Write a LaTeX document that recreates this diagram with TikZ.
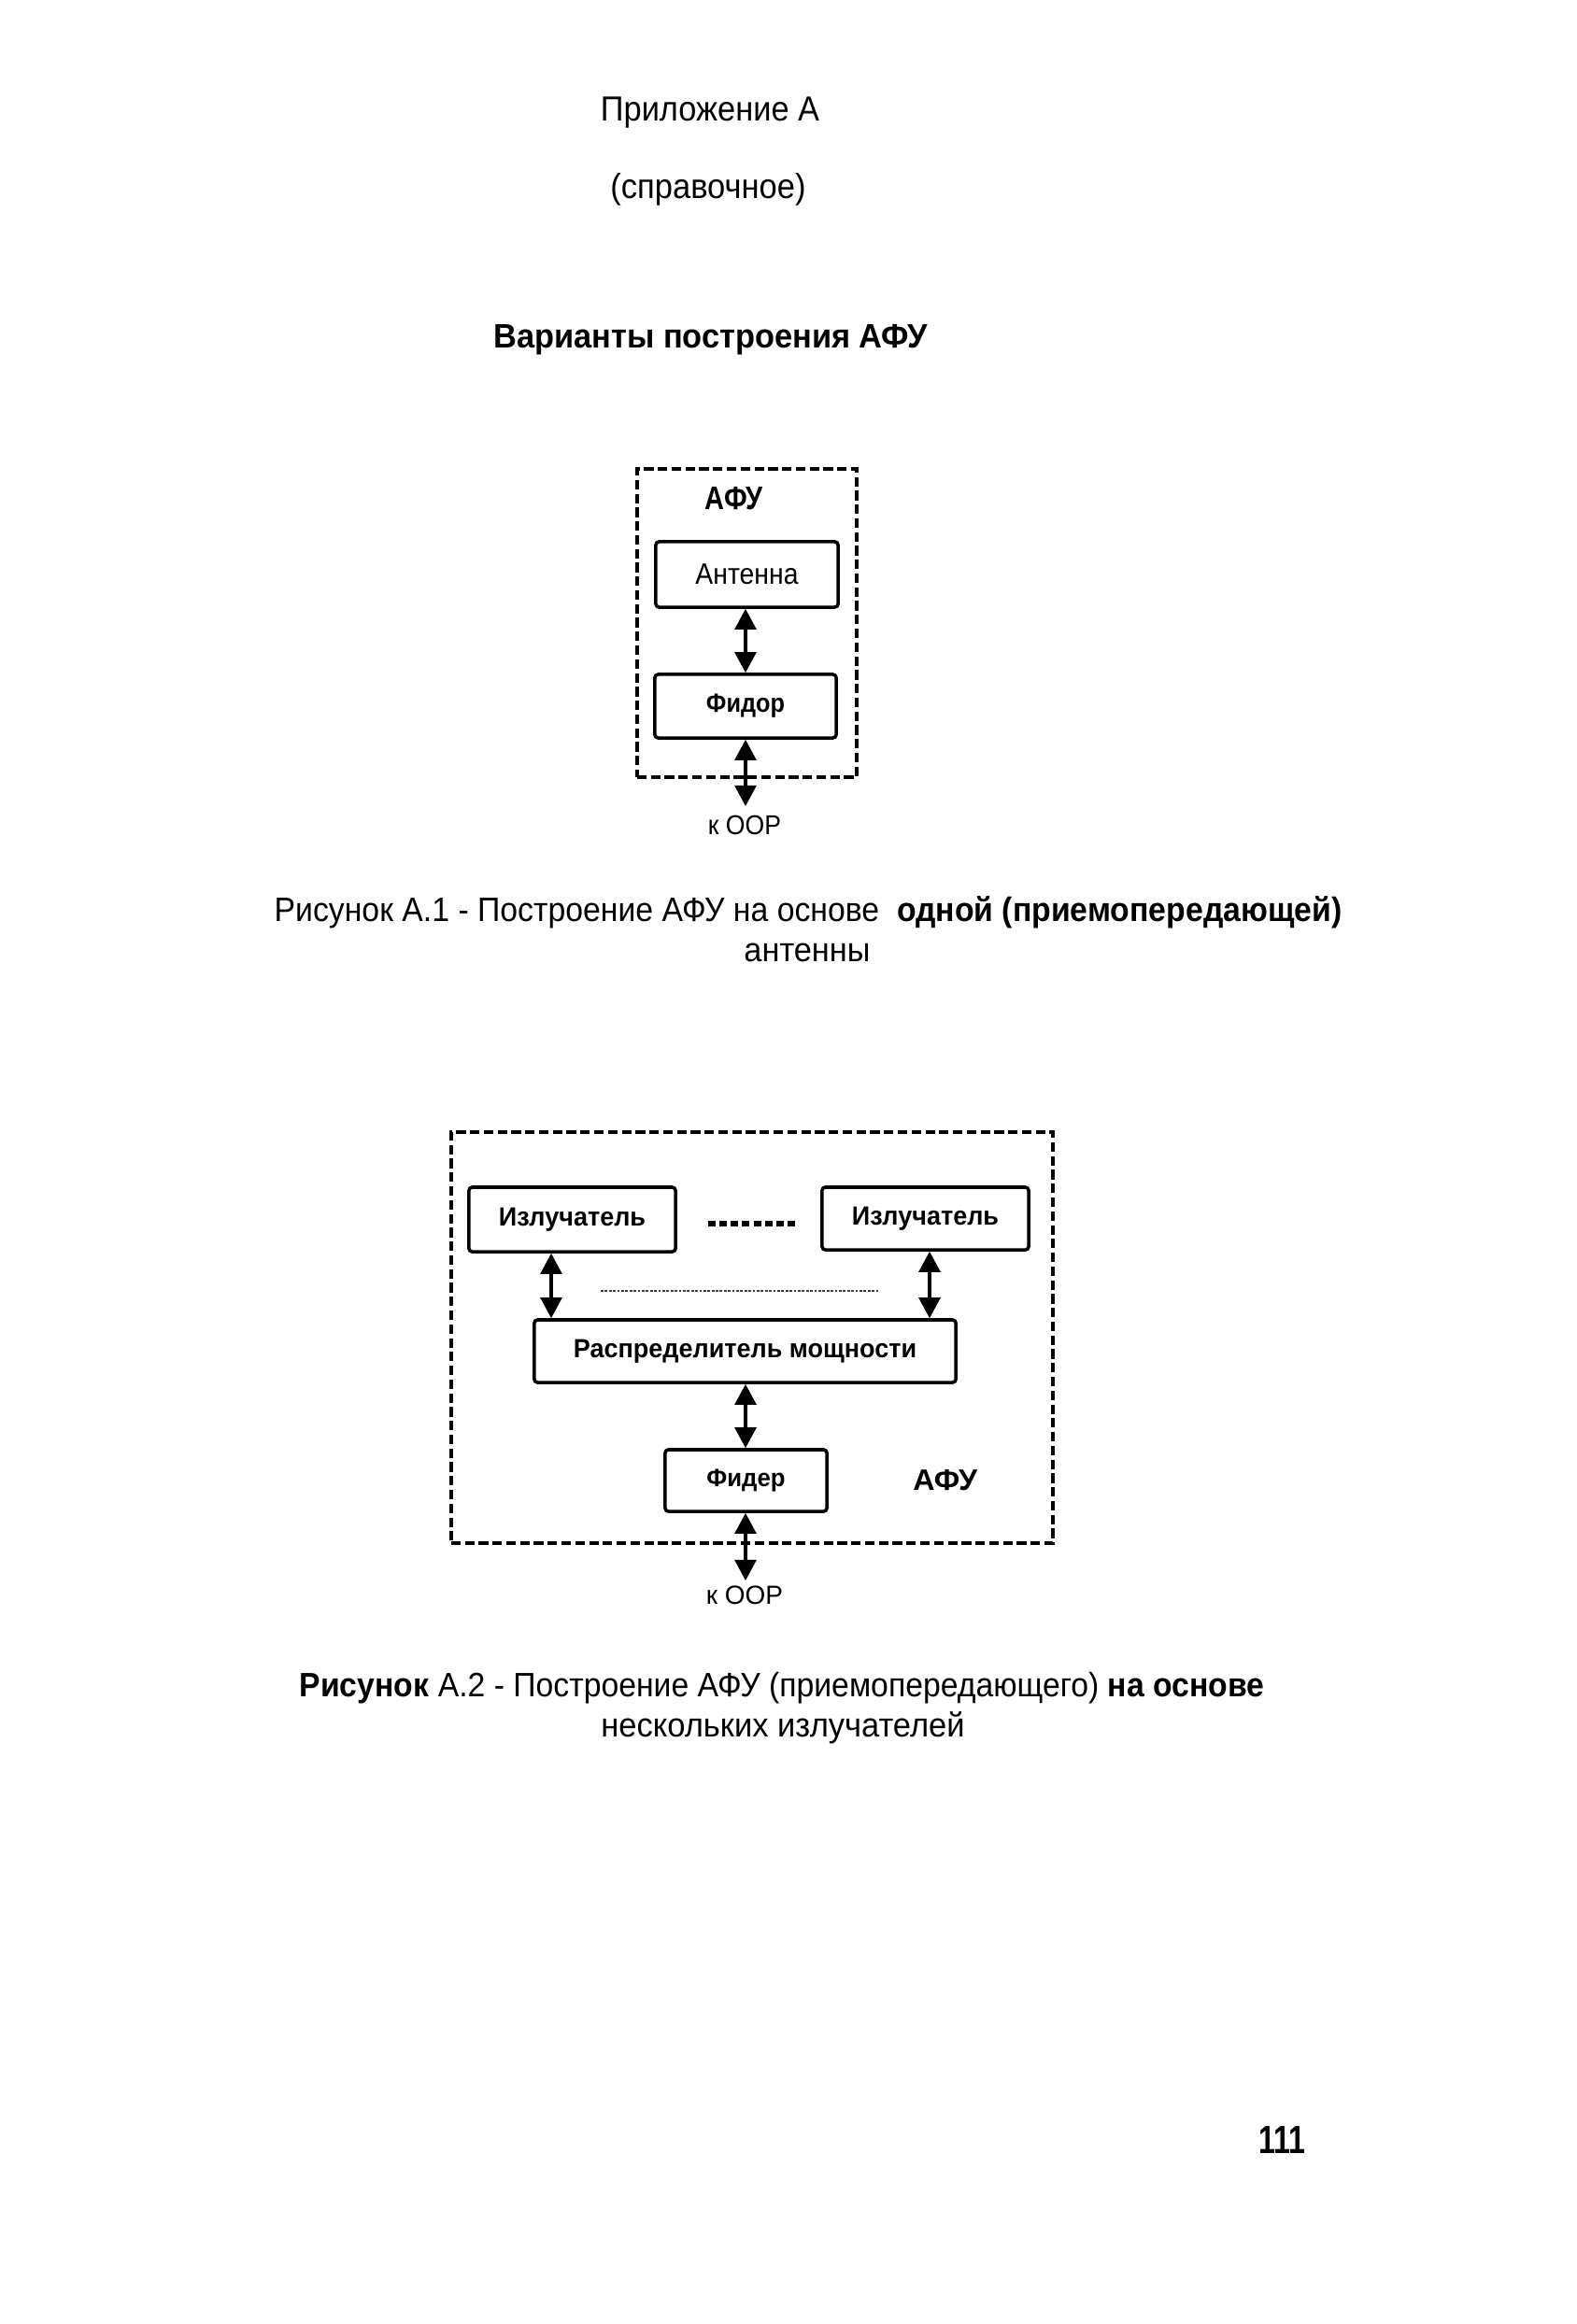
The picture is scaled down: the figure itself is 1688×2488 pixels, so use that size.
\documentclass[tikz,border=0pt]{standalone}
\usepackage{fontspec}
\setmainfont{Liberation Sans}
\usepackage{graphicx}
\usetikzlibrary{arrows.meta}
\newcommand{\fw}[2]{\resizebox{#1}{\height}{#2}}
\newcommand{\fsz}[1]{\fontsize{#1}{#1}\selectfont}
\tikzset{
  box/.style={draw, line width=1pt, rounded corners=1pt, inner sep=0pt},
  afubox/.style={draw, line width=1.1pt, dash pattern=on 2.9pt off 1.3pt, inner sep=0pt},
  lbl/.style={anchor=base, inner sep=0pt},
  biarrow/.style={line width=1pt, {Triangle[length=6.3pt,width=6.5pt]}-{Triangle[length=6.3pt,width=6.5pt]}},
  dotrow/.style={line width=1.7pt, dash pattern=on 2.3pt off 1.15pt},
  faintdots/.style={line width=0.7pt, dash pattern=on 0.8pt off 0.45pt, black!75}
}
\begin{document}
\begin{tikzpicture}[x=0.01cm,y=-0.01cm]
\useasboundingbox (0,0) rectangle (1688,2488);
\fill[white] (0,0) rectangle (1688,2488);

% header
\node[lbl] (h1) at (760,130) {\fsz{10.6}\fw{2.34cm}{Приложение А}};
\node[lbl] (h2) at (758,213) {\fsz{10.6}\fw{2.09cm}{(справочное)}};
\node[lbl] (h3) at (761,372) {\fsz{10.3}\fw{4.65cm}{\textbf{Варианты построения АФУ}}};

% figure A.1
\node[afubox, minimum width=2.35cm, minimum height=3.30cm] (g1) at (799.5,667) {};
\node[lbl] (afu1) at (786,545) {\fsz{9.9}\fw{0.62cm}{\textbf{АФУ}}};
\node[box, minimum width=1.95cm, minimum height=0.70cm] (ant) at (799.5,615) {\fsz{9}\fw{1.10cm}{Антенна}};
\node[box, minimum width=1.94cm, minimum height=0.68cm] (fid1) at (798,756) {\fsz{8}\fw{0.84cm}{\textbf{Фидор}}};
\coordinate (ax1) at (798,0);
\draw[biarrow] (ant.south -| ax1) -- (fid1.north -| ax1);
\coordinate (oor1) at (798,863);
\draw[biarrow] (fid1.south -| ax1) -- (oor1);
\node[lbl] (koor1) at (797,893) {\fsz{8.3}\fw{0.78cm}{к ООР}};

% caption A.1
\node[lbl] (c1a) at (865,986) {\fsz{10.3}\fw{11.42cm}{Рисунок А.1 - Построение АФУ на основе\ \ \textbf{одной (приемопередающей)}}};
\node[lbl] (c1b) at (864,1029) {\fsz{10.3}\fw{1.35cm}{антенны}};

% figure A.2
\node[afubox, minimum width=6.44cm, minimum height=4.40cm] (g2) at (805,1432) {};
\node[box, minimum width=2.21cm, minimum height=0.69cm] (izl1) at (612.5,1305.5) {\fsz{8}\fw{1.57cm}{\textbf{Излучатель}}};
\node[box, minimum width=2.21cm, minimum height=0.67cm] (izl2) at (990.5,1304.5) {\fsz{8}\fw{1.57cm}{\textbf{Излучатель}}};
\node[box, minimum width=4.51cm, minimum height=0.67cm] (rasp) at (797.5,1446.5) {\fsz{8}\fw{3.67cm}{\textbf{Распределитель мощности}}};
\node[box, minimum width=1.73cm, minimum height=0.66cm] (fid2) at (798.5,1585) {\fsz{7.6}\fw{0.84cm}{\textbf{Фидер}}};
\node[lbl] (afu2) at (1012,1595) {\fsz{9}\fw{0.69cm}{\textbf{АФУ}}};
\draw[dotrow] (758,1310) -- (852,1310);
\draw[faintdots] (643,1382) -- (940,1382);
\coordinate (lx) at (590,0);
\coordinate (rx) at (995,0);
\coordinate (mx) at (798,0);
\draw[biarrow] (izl1.south -| lx) -- (rasp.north -| lx);
\draw[biarrow] (izl2.south -| rx) -- (rasp.north -| rx);
\draw[biarrow] (rasp.south -| mx) -- (fid2.north -| mx);
\coordinate (oor2) at (798,1692);
\draw[biarrow] (fid2.south -| mx) -- (oor2);
\node[lbl] (koor2) at (797,1717) {\fsz{8}\fw{0.82cm}{к ООР}};

% caption A.2
\node[lbl] (c2a) at (837,1816) {\fsz{10.3}\fw{10.32cm}{\textbf{Рисунок} А.2 - Построение АФУ (приемопередающего) \textbf{на основе}}};
\node[lbl] (c2b) at (838,1859) {\fsz{10.3}\fw{3.89cm}{нескольких излучателей}};

% page number
\node[lbl] (pg) at (1372,2305) {\fsz{12}\fw{0.50cm}{\textbf{111}}};
\end{tikzpicture}
\end{document}
